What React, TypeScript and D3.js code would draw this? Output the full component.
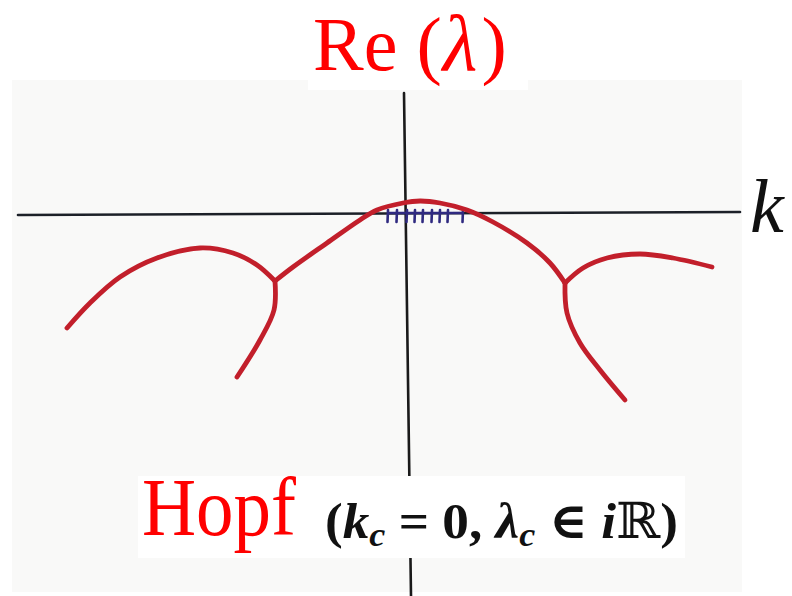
import React from "react";
import * as d3 from "d3";

// Sketch data in (k, Re(lambda)) units
const centralArchK = [-1.30, -1.12, -0.78, -0.45, -0.28, -0.02, 0.15, 0.35, 0.62, 0.88, 1.22, 1.45, 1.60];
const centralArchRe = [-0.68, -0.54, -0.30, -0.07, 0.03, 0.10, 0.12, 0.10, 0.03, -0.09, -0.30, -0.50, -0.70];

const leftOuterK = [-3.38, -3.15, -2.85, -2.48, -2.05, -1.72, -1.48, -1.30];
const leftOuterRe = [-1.15, -0.90, -0.64, -0.45, -0.35, -0.40, -0.52, -0.68];

const leftLowerK = [-1.30, -1.31, -1.45, -1.68];
const leftLowerRe = [-0.68, -0.97, -1.27, -1.64];

const rightOuterK = [1.60, 1.78, 2.02, 2.35, 2.68, 3.07];
const rightOuterRe = [-0.70, -0.55, -0.45, -0.41, -0.45, -0.54];

const rightLowerK = [1.60, 1.62, 1.75, 1.95, 2.20];
const rightLowerRe = [-0.70, -1.00, -1.30, -1.57, -1.87];

const hAxisK = [-3.87, 3.35];
const hAxisRe = [-0.02, 0.01];
const vAxisK = [-0.01, 0.06];
const vAxisRe = [1.20, -3.83];

const hatchK = [-0.17, -0.08, 0.02, 0.10, 0.18, 0.27, 0.35, 0.43, 0.58];
const hatchRe = [0.03, -0.09];

const titleText = "Re";
const lambdaText = "λ";
const axisLabel = "k";
const hopfText = "Hopf";

const W = 792;
const H = 596;

export default function App() {
  const x = d3.scaleLinear().domain([-4, 4]).range([5, 805]);
  const y = d3.scaleLinear().domain([2.13, -3.83]).range([0, 596]);

  const zip = (ks: number[], rs: number[]) => ks.map((k, i) => [k, rs[i]] as [number, number]);
  const line = d3
    .line<[number, number]>()
    .x((d) => x(d[0]))
    .y((d) => y(d[1]))
    .curve(d3.curveCatmullRom.alpha(0.5));

  const curves = [
    zip(centralArchK, centralArchRe),
    zip(leftOuterK, leftOuterRe),
    zip(leftLowerK, leftLowerRe),
    zip(rightOuterK, rightOuterRe),
    zip(rightLowerK, rightLowerRe),
  ];

  const red = "#c21f2b";
  const serif = "'Liberation Serif', 'DejaVu Serif', serif";

  return (
    <svg width={W} height={H} viewBox={`0 0 ${W} ${H}`} style={{ position: "absolute", left: 0, top: 0, background: "#fff" }}>
      <rect x={0} y={0} width={W} height={H} fill="#ffffff" />
      {/* paper */}
      <rect x={12} y={80} width={730} height={512} fill="#f9f9f8" />

      {/* axes */}
      <line x1={x(hAxisK[0])} y1={y(hAxisRe[0])} x2={x(hAxisK[1])} y2={y(hAxisRe[1])} stroke="#1c2028" strokeWidth={2.6} strokeLinecap="round" />
      <line x1={x(vAxisK[0])} y1={y(vAxisRe[0])} x2={x(vAxisK[1])} y2={y(vAxisRe[1])} stroke="#1a1a1a" strokeWidth={2.6} strokeLinecap="round" />

      {/* hatched region */}
      <line x1={x(hatchK[0])} y1={y(0)} x2={x(hatchK[hatchK.length - 1])} y2={y(0)} stroke="#2f2a80" strokeWidth={2.4} />
      {hatchK.map((k, i) => (
        <line key={i} x1={x(k)} y1={y(hatchRe[0])} x2={x(k) - 0.5} y2={y(hatchRe[1])} stroke="#2f2a80" strokeWidth={2.6} strokeLinecap="round" />
      ))}

      {/* curves */}
      {curves.map((c, i) => (
        <path key={i} d={line(c) || ""} fill="none" stroke={red} strokeWidth={4.8} strokeLinecap="round" strokeLinejoin="round" />
      ))}

      {/* label boxes */}
      <rect x={308} y={0} width={220} height={90} fill="#ffffff" />
      <rect x={138} y={476} width={547} height={82} fill="#ffffff" />

      {/* title */}
      <text x={313} y={70} fontFamily={serif} fontSize={76} fill="#ff0000">
        {titleText}
        <tspan dx={19}>(</tspan>
        <tspan dx={1} fontStyle="italic" fontSize={80}>{lambdaText}</tspan>
        <tspan dx={4}>)</tspan>
      </text>

      {/* k label */}
      <text x={750} y={232} fontFamily={serif} fontSize={76} fontStyle="italic" fill="#111">
        {axisLabel}
      </text>

      {/* Hopf */}
      <text x={142} y={535} fontFamily={serif} fontSize={83} fill="#ff0000" textLength={154} lengthAdjust="spacingAndGlyphs">
        {hopfText}
      </text>
      <text x={325} y={538} fontFamily={serif} fontSize={50} fontWeight="bold" fill="#111" textLength={353} lengthAdjust="spacingAndGlyphs">
        <tspan>(</tspan>
        <tspan fontStyle="italic">k</tspan>
        <tspan fontStyle="italic" fontSize={34} dy={8}>c</tspan>
        <tspan dy={-8}> = 0, </tspan>
        <tspan fontStyle="italic">λ</tspan>
        <tspan fontStyle="italic" fontSize={34} dy={8}>c</tspan>
        <tspan dy={-8}> ∈ </tspan>
        <tspan fontStyle="italic">i</tspan>
        <tspan fontFamily="'DejaVu Serif', serif" fontWeight="normal">ℝ</tspan>
        <tspan>)</tspan>
      </text>
    </svg>
  );
}
